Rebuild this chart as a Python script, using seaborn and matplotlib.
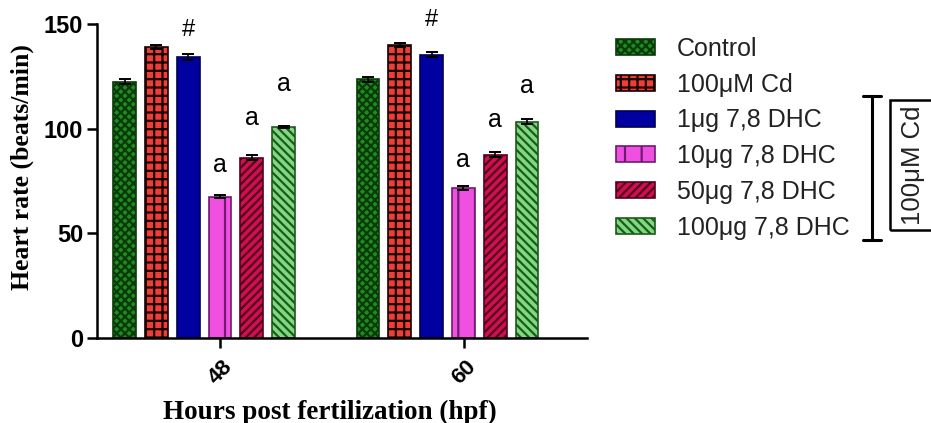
import matplotlib
matplotlib.use("Agg")
import matplotlib.pyplot as plt
import seaborn as sns
import pandas as pd
import numpy as np
from matplotlib.patches import Patch, Rectangle
from matplotlib.lines import Line2D

# ---------------- data ----------------
timepoints = ["48", "60"]
groups = ["Control", "100\u03bcM Cd", "1\u03bcg 7,8 DHC", "10\u03bcg 7,8 DHC",
          "50\u03bcg 7,8 DHC", "100\u03bcg 7,8 DHC"]
rate_48 = [122.5, 139.0, 134.3, 67.5, 86.0, 100.9]
rate_60 = [123.5, 140.0, 135.2, 71.8, 87.5, 103.4]
sem_48 = [1.0, 0.8, 1.5, 0.6, 1.2, 0.6]
sem_60 = [1.0, 0.8, 1.2, 1.0, 1.2, 1.2]
marks = ["", "", "#", "a", "a", "a"]
# heights (in y units) at which the significance marks are written
mark_y_48 = [None, None, 147.2, 82.5, 105.1, 121.2]
mark_y_60 = [None, None, 151.9, 84.9, 104.0, 120.3]

# ---------------- styles ----------------
face_colors = ["#1e8c1e", "#ee3f36", "#0000a0", "#f050e0", "#cc1050", "#80d880"]
hatch_colors = ["#0a3a0a", "#1a0000", "#000050", "#701a70", "#55001c", "#1d5a1d"]
hatches = ["xxxx", "++", "", "|", "////", "\\\\\\\\"]

sns.set_theme(style="white")
plt.rcParams["font.family"] = ["Liberation Sans", "DejaVu Sans"]
plt.rcParams["hatch.linewidth"] = 1.6
plt.rcParams["text.color"] = "black"
plt.rcParams["axes.labelcolor"] = "black"
plt.rcParams["xtick.color"] = "black"
plt.rcParams["ytick.color"] = "black"

df = pd.DataFrame({
    "hpf": np.repeat(timepoints, len(groups)),
    "group": groups * len(timepoints),
    "rate": rate_48 + rate_60,
})
sems = {t: s for t, s in zip(timepoints, [sem_48, sem_60])}
mark_ys = {t: m for t, m in zip(timepoints, [mark_y_48, mark_y_60])}

W, H = 931, 423
fig = plt.figure(figsize=(W / 100, H / 100), dpi=100)
ax = fig.add_axes([97 / W, 1 - 338 / H, (587 - 97) / W, (338 - 24) / H])

sns.barplot(data=df, x="hpf", y="rate", hue="group", order=timepoints,
            hue_order=groups, palette=face_colors, saturation=1,
            width=0.784, gap=0.28, errorbar=None, edgecolor="black",
            linewidth=1.0, ax=ax, legend=False)

bar_containers = list(ax.containers)
for gi, cont in enumerate(bar_containers):
    for ti, bar in enumerate(cont):
        bar.set_hatch(hatches[gi])
        bar.set_edgecolor(hatch_colors[gi])
        bar.set_linewidth(1.2)
        xc = bar.get_x() + bar.get_width() / 2
        h = bar.get_height()
        err = sems[timepoints[ti]][gi]
        ax.errorbar(xc, h, yerr=err, fmt="none", ecolor="black",
                    elinewidth=1.2, capsize=4, capthick=1.4, zorder=5)
        if marks[gi]:
            ax.text(xc, mark_ys[timepoints[ti]][gi], marks[gi],
                    ha="center", va="center",
                    fontsize=18 if marks[gi] == "a" else 17,
                    color="black", clip_on=False)

# GraphPad-style: category ticks sit slightly right of the bar-group centres
ax.set_xlim(-0.44, 1.573)
ax.set_ylim(0, 150)
ax.set_yticks([0, 50, 100, 150])
ax.set_yticklabels(["0", "50", "100", "150"], fontsize=17, fontweight="bold")
ax.set_xticks([0.066, 1.066])
ax.set_xticklabels(timepoints, rotation=45, fontsize=16, fontweight="bold",
                   ha="center", va="top")
ax.tick_params(axis="both", direction="out", length=7, width=1.8,
               color="black", left=True, bottom=True, pad=3)
ax.tick_params(axis="x", pad=6)
for s in ["top", "right"]:
    ax.spines[s].set_visible(False)
for s in ["left", "bottom"]:
    ax.spines[s].set_linewidth(1.8)
    ax.spines[s].set_color("black")

ax.set_ylabel("Heart rate (beats/min)", fontsize=18.5, fontweight="bold",
              family=["Liberation Serif", "DejaVu Serif"], labelpad=7)
ax.set_xlabel("Hours post fertilization (hpf)", fontsize=19.5, fontweight="bold",
              family=["Liberation Serif", "DejaVu Serif"], labelpad=8)
ax.yaxis.label.set_y(0.545)
ax.xaxis.label.set_x(0.476)

# ---------------- legend ----------------
handles = [Patch(facecolor=fc, edgecolor=hc, hatch=ht, linewidth=1.2)
           for fc, hc, ht in zip(face_colors, hatch_colors, hatches)]
leg = fig.legend(handles, groups, loc="upper left",
                 bbox_to_anchor=(616 / W, 1 - 37 / H), frameon=False,
                 fontsize=18, handlelength=1.55, handleheight=0.6,
                 handletextpad=0.9, labelspacing=0.47, borderpad=0,
                 borderaxespad=0, labelcolor="#222222")

# ---------------- bracket & box ----------------
def fy(p):
    return 1 - p / H

def fx(p):
    return p / W

fig.add_artist(Line2D([fx(872), fx(872)], [fy(96), fy(240)], color="black",
                      lw=2.2, transform=fig.transFigure))
fig.add_artist(Line2D([fx(863), fx(881)], [fy(96), fy(96)], color="black",
                      lw=2.2, transform=fig.transFigure))
fig.add_artist(Line2D([fx(863), fx(881)], [fy(240), fy(240)], color="black",
                      lw=2.2, transform=fig.transFigure))
fig.add_artist(Rectangle((fx(890), fy(230)), fx(60), (230 - 100) / H,
                         fill=False, edgecolor="black", lw=1.8,
                         transform=fig.transFigure, clip_on=False))
fig.text(fx(913), fy(165), "100\u03bcM Cd", rotation=90, ha="center",
         va="center", fontsize=18.5, color="#222222")

fig.savefig("out.png", dpi=100)
